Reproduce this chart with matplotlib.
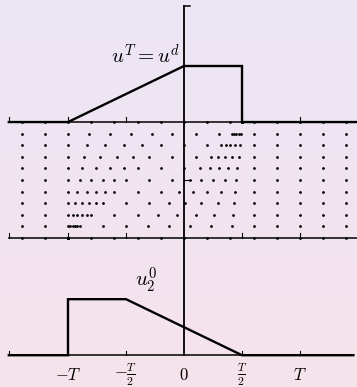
# ===================
# Part 1: Importing Libraries
# ===================
import numpy as np
import matplotlib.pyplot as plt
from matplotlib.colors import LinearSegmentedColormap

plt.rcParams['mathtext.fontset'] = 'cm'

# ===================
# Part 2: Data Preparation
# ===================
# everything is in units of T
x_feet = [-1.4, -1.2, -1.0, -0.8, -0.6, -0.4, -0.2, 0.0, 0.2, 0.4, 0.6, 0.8, 1.0, 1.2, 1.4]
t_levels = [0.0, 0.1, 0.2, 0.3, 0.4, 0.5, 0.6, 0.7, 0.8, 0.9, 1.0]
fan_speeds = [0.2, 0.4, 0.6, 0.8, 1.0]

# initial datum u_2^0 (jump at -T, plateau, then linear decay)
u0_x = [-1.51, -1.0, -1.0, -0.5, 0.5, 1.46]
u0_v = [0.0, 0.0, 1.0, 1.0, 0.0, 0.0]

# target u^T = u^d (ramp, plateau, drop at T/2)
uT_x = [-1.51, -1.0, 0.0, 0.5, 0.5, 1.5]
uT_v = [0.0, 0.0, 1.0, 1.0, 0.0, 0.0]

tick_pos = [-1.0, -0.5, 0.0, 0.5, 1.0]
tick_labels = [r'$-T$', r'$-\frac{T}{2}$', r'$0$', r'$\frac{T}{2}$', r'$T$']

top_base = 1.0
bot_base = -1.01
amp = 0.483


def speed(x0):
    # value of u_2^0 just to the right of the foot
    if x0 <= -1.0:
        return 0.0
    return float(np.interp(x0, u0_x[2:], u0_v[2:]))


# characteristic positions at each time level
dots_x, dots_t = [], []
for t in t_levels:
    for x0 in x_feet:
        dots_x.append(x0 + speed(x0) * t)
        dots_t.append(t)
    for s in fan_speeds:
        dots_x.append(-1.0 + s * t)
        dots_t.append(t)

# ===================
# Part 3: Plot Configuration and Rendering
# ===================
fig = plt.figure(figsize=(3.57, 3.87), dpi=100)
ax = fig.add_axes([0, 0, 1, 1])
xmin, xmax, ymin, ymax = -1.586, 1.491, -1.284, 2.052
ax.set_xlim(xmin, xmax)
ax.set_ylim(ymin, ymax)
ax.axis('off')

# soft lavender-to-pink background
bg = LinearSegmentedColormap.from_list('bg', ['#ece6f5', '#f6e3ec'])
ax.imshow(np.linspace(0, 1, 200).reshape(-1, 1), cmap=bg, aspect='auto',
          extent=(xmin, xmax, ymin, ymax), zorder=0)

k = 'black'
axis_lw = 1.1
curve_lw = 1.7

# baselines
ax.plot([-1.51, 1.5], [top_base, top_base], color=k, lw=axis_lw)
ax.plot([-1.51, 1.5], [0.0, 0.0], color=k, lw=axis_lw)
ax.plot([-1.51, 1.46], [bot_base, bot_base], color=k, lw=axis_lw)

# vertical axis through x = 0
ax.plot([0, 0], [bot_base, 2.0], color=k, lw=1.3)
ax.plot([0, 0.05], [2.0, 2.0], color=k, lw=axis_lw)
ax.plot([0, 0.05], [0.5, 0.5], color=k, lw=0.8)

# small upward ticks on the baselines
tick_h = 0.04
for base in (top_base, 0.0, bot_base):
    for xt in [-1.51, -1.0, -0.5, 0.5, 1.0]:
        ax.plot([xt, xt], [base, base + tick_h], color=k, lw=0.8)

# curves
ax.plot(uT_x, top_base + amp * np.array(uT_v), color=k, lw=curve_lw,
        solid_joinstyle='miter')
ax.plot(u0_x, bot_base + amp * np.array(u0_v), color=k, lw=curve_lw,
        solid_joinstyle='miter')

# characteristic dots
ax.scatter(dots_x, dots_t, s=4, color=k, linewidths=0, zorder=3)

# labels
ax.text(-0.03, 1.5, r'$u^T = u^d$', fontsize=15, ha='right', va='baseline')
ax.text(-0.33, -0.42, r'$u_2^0$', fontsize=15, ha='center', va='baseline')
for xt, lab in zip(tick_pos, tick_labels):
    ax.text(xt, -1.18, lab, fontsize=12, ha='center', va='center')

# ===================
# Part 4: Saving Output
# ===================
plt.savefig('out.png', dpi=100)
